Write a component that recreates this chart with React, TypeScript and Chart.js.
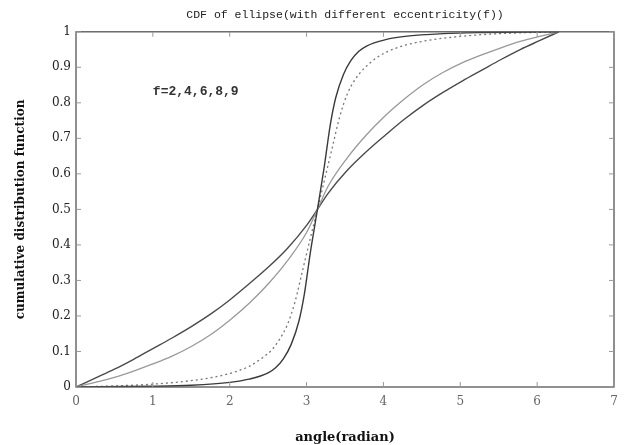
import React, { useEffect, useRef } from "react";
import { Chart, registerables } from "chart.js";

Chart.register(...registerables);

const titleText = "CDF of ellipse(with different eccentricity(f))";
const xAxisLabel = "angle(radian)";
const yAxisLabel = "cumulative distribution function";
const noteText = "f=2,4,6,8,9";
const noteX = 1.0;
const noteY = 0.83;

const xTicks = [0, 1, 2, 3, 4, 5, 6, 7];
const yTicks = [0, 0.1, 0.2, 0.3, 0.4, 0.5, 0.6, 0.7, 0.8, 0.9, 1];

// steepest curve (solid)
const curveAx = [0, 1.0, 1.5, 2.0, 2.25, 2.5, 2.6, 2.7, 2.8, 2.9, 2.97, 3.05, 3.1416, 3.23, 3.31, 3.38, 3.48, 3.58, 3.68, 3.78, 4.03, 4.28, 4.78, 5.28, 6.2832];
const curveAy = [0, 0.002, 0.005, 0.013, 0.022, 0.04, 0.055, 0.08, 0.12, 0.185, 0.26, 0.38, 0.5, 0.62, 0.74, 0.815, 0.88, 0.92, 0.945, 0.96, 0.978, 0.987, 0.995, 0.998, 1];

// second steepest (dotted)
const curveBx = [0, 0.5, 1.0, 1.5, 1.75, 2.0, 2.25, 2.4, 2.55, 2.65, 2.75, 2.85, 2.95, 3.05, 3.1416, 3.23, 3.33, 3.43, 3.53, 3.63, 3.74, 3.88, 4.03, 4.28, 4.53, 4.78, 5.28, 5.78, 6.2832];
const curveBy = [0, 0.003, 0.008, 0.018, 0.026, 0.038, 0.058, 0.078, 0.105, 0.135, 0.175, 0.24, 0.33, 0.42, 0.5, 0.58, 0.67, 0.76, 0.825, 0.865, 0.895, 0.922, 0.942, 0.962, 0.974, 0.982, 0.992, 0.997, 1];

// third (light grey)
const curveCx = [0, 0.25, 0.5, 0.75, 1.0, 1.25, 1.5, 1.75, 2.0, 2.25, 2.5, 2.75, 3.0, 3.1416, 3.28, 3.53, 3.78, 4.03, 4.28, 4.53, 4.78, 5.03, 5.28, 5.53, 5.78, 6.03, 6.2832];
const curveCy = [0, 0.013, 0.027, 0.045, 0.065, 0.087, 0.114, 0.147, 0.188, 0.235, 0.29, 0.355, 0.435, 0.5, 0.565, 0.645, 0.71, 0.765, 0.812, 0.853, 0.886, 0.913, 0.935, 0.955, 0.973, 0.987, 1];

// least steep (solid)
const curveDx = [0, 0.25, 0.5, 0.75, 1.0, 1.25, 1.5, 1.75, 2.0, 2.25, 2.5, 2.75, 3.0, 3.1416, 3.28, 3.53, 3.78, 4.03, 4.28, 4.53, 4.78, 5.03, 5.28, 5.53, 5.78, 6.03, 6.2832];
const curveDy = [0, 0.025, 0.05, 0.078, 0.108, 0.138, 0.17, 0.205, 0.245, 0.29, 0.337, 0.39, 0.455, 0.5, 0.545, 0.61, 0.663, 0.71, 0.755, 0.795, 0.83, 0.862, 0.892, 0.922, 0.95, 0.975, 1];

const toPts = (xs: number[], ys: number[]) => xs.map((x, i) => ({ x, y: ys[i] }));

const framePlugin = {
  id: "frameTicks",
  afterDraw(chart: any) {
    const { ctx, chartArea, scales } = chart;
    const { left, right, top, bottom } = chartArea;
    ctx.save();
    ctx.strokeStyle = "#555";
    ctx.lineWidth = 1.3;
    ctx.strokeRect(left, top, right - left, bottom - top);
    ctx.lineWidth = 1;
    ctx.strokeStyle = "#999";
    const len = 5;
    ctx.beginPath();
    xTicks.forEach((v) => {
      const px = scales.x.getPixelForValue(v);
      ctx.moveTo(px, bottom);
      ctx.lineTo(px, bottom - len);
      ctx.moveTo(px, top);
      ctx.lineTo(px, top + len);
    });
    yTicks.forEach((v) => {
      const py = scales.y.getPixelForValue(v);
      ctx.moveTo(left, py);
      ctx.lineTo(left + len, py);
      ctx.moveTo(right, py);
      ctx.lineTo(right - len, py);
    });
    ctx.stroke();
    ctx.fillStyle = "#333";
    ctx.font = "bold 13px 'Liberation Mono'";
    ctx.textBaseline = "middle";
    ctx.textAlign = "left";
    ctx.fillText(noteText, scales.x.getPixelForValue(noteX), scales.y.getPixelForValue(noteY));
    ctx.restore();
  },
};

export default function App() {
  const ref = useRef<HTMLCanvasElement | null>(null);
  useEffect(() => {
    document.body.style.margin = "0";
    const canvas = ref.current;
    if (!canvas) return;
    const common = { pointRadius: 0, fill: false, cubicInterpolationMode: "monotone" as const };
    const chart = new Chart(canvas, {
      type: "line",
      data: {
        datasets: [
          { label: "A", data: toPts(curveAx, curveAy), borderColor: "#3a3a3a", borderWidth: 1.4, ...common },
          { label: "B", data: toPts(curveBx, curveBy), borderColor: "#777", borderWidth: 1.3, borderDash: [2, 3], ...common },
          { label: "C", data: toPts(curveCx, curveCy), borderColor: "#999", borderWidth: 1.3, ...common },
          { label: "D", data: toPts(curveDx, curveDy), borderColor: "#4a4a4a", borderWidth: 1.4, ...common },
        ],
      },
      options: {
        responsive: false,
        animation: false,
        layout: { padding: { left: 0, right: 12, top: 0, bottom: 0 } },
        plugins: {
          legend: { display: false },
          tooltip: { enabled: false },
          title: {
            display: true,
            text: titleText,
            fullSize: false,
            color: "#222",
            font: { family: "'Liberation Mono'", size: 11.5, weight: "normal" },
            padding: { top: 8, bottom: 10 },
          },
        },
        scales: {
          x: {
            type: "linear",
            min: 0,
            max: 7,
            afterBuildTicks: (s: any) => { s.ticks = xTicks.map((v) => ({ value: v })); },
            afterFit: (s: any) => { s.height = 58; },
            ticks: { padding: 8, color: "#666", font: { family: "'DejaVu Serif'", size: 12 } },
            grid: { display: false, drawTicks: false },
            border: { display: false },
            title: {
              display: true,
              text: xAxisLabel,
              color: "#111",
              font: { family: "'DejaVu Serif'", size: 13, weight: "bold" },
              padding: { top: 0, bottom: 0 },
            },
          },
          y: {
            type: "linear",
            min: 0,
            max: 1,
            afterBuildTicks: (s: any) => { s.ticks = yTicks.map((v) => ({ value: v })); },
            afterFit: (s: any) => { s.width = 76; },
            ticks: {
              padding: 5,
              color: "#222",
              font: { family: "'DejaVu Serif'", size: 12 },
              callback: (v: any) => String(Number(Number(v).toFixed(1))),
            },
            grid: { display: false, drawTicks: false },
            border: { display: false },
            title: {
              display: true,
              text: yAxisLabel,
              color: "#111",
              font: { family: "'DejaVu Serif'", size: 12, weight: "bold" },
              padding: { top: 14, bottom: 0 },
            },
          },
        },
      },
      plugins: [framePlugin],
    });
    return () => chart.destroy();
  }, []);
  return (
    <div style={{ width: 626, height: 445, background: "#fff" }}>
      <canvas ref={ref} width={626} height={445} />
    </div>
  );
}
